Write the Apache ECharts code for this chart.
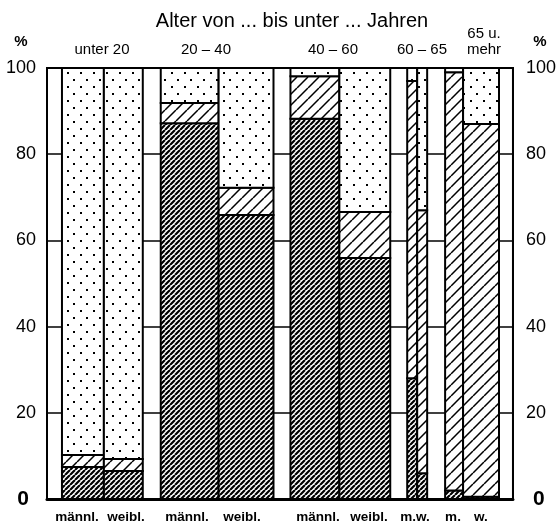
<!DOCTYPE html>
<html><head><meta charset="utf-8">
<script src="https://cdn.jsdelivr.net/npm/echarts@6/dist/echarts.min.js"></script>
<style>html,body{margin:0;padding:0;background:#fff}#c{width:559px;height:524px}</style>
</head><body><div id="c"></div>
<script>
// ---------- data ----------
const title = 'Alter von ... bis unter ... Jahren';
const groups = ['unter 20', '20 – 40', '40 – 60', '60 – 65', '65 u.\nmehr'];
const barLabels = ['männl.', 'weibl.', 'männl.', 'weibl.', 'männl.', 'weibl.', 'm.w.', 'm.', 'w.'];
const yTicks = [0, 20, 40, 60, 80, 100];
// shares in % per bar (männl./weibl. per age group): dark hatched, light hatched, dotted
const darkShare  = [7.4, 6.5, 87.2, 65.9, 88.2, 55.9, 28.0, 6.0, 2.0, 0.5];
const lightShare = [2.8, 2.8, 4.7, 6.3, 9.9, 10.7, 69.0, 61.0, 97.0, 86.5];
const dotShare   = [89.8, 90.7, 8.1, 27.8, 1.9, 33.4, 3.0, 33.0, 1.0, 13.0];

// ---------- layout (not data) ----------
const frameW = 467;
const barSpans = [[15,57],[57,96],[114,172],[172,227],[244,293],[293,344],[361,371],[371,381],[399,417],[417,453]];
const groupLabelX = [102, 206, 333, 422, 484];
const barLabelX = [77, 126, 187, 242, 318, 369, 415, 453, 481];
const FONT = '"Liberation Sans", Arial, Helvetica, sans-serif';

function makeTile(w, h, draw) {
  const c = document.createElement('canvas');
  c.width = w; c.height = h;
  const ctx = c.getContext('2d');
  ctx.fillStyle = '#fff'; ctx.fillRect(0, 0, w, h);
  ctx.strokeStyle = '#000'; ctx.fillStyle = '#000';
  draw(ctx, w, h);
  return c;
}
function hatch(s, lw) {
  return makeTile(s, s, (ctx) => {
    ctx.lineWidth = lw; ctx.beginPath();
    for (let k = -1; k <= 1; k++) { ctx.moveTo(k * s, s); ctx.lineTo(k * s + s, 0); }
    ctx.stroke();
  });
}
const patDark = { image: hatch(5, 2.2), repeat: 'repeat' };
const patLight = { image: hatch(11, 1.5), repeat: 'repeat' };
const patDots = { image: makeTile(13, 14, (ctx) => { ctx.fillRect(2, 2, 2, 2); ctx.fillRect(8, 9, 2, 2); }), repeat: 'repeat' };

const base1 = darkShare.map(() => 0);
const base2 = darkShare.slice();
const base3 = darkShare.map((d, i) => d + lightShare[i]);

function segSeries(name, baseArr, valArr, pattern) {
  const data = valArr.map((v, i) => [barSpans[i][0], barSpans[i][1], baseArr[i], baseArr[i] + v]);
  return {
    type: 'custom', name, data, z: 3,
    encode: { x: [0, 1], y: [2, 3] },
    renderItem(params, api) {
      const p0 = api.coord([api.value(0), api.value(2)]);
      const p1 = api.coord([api.value(1), api.value(3)]);
      return {
        type: 'rect',
        shape: { x: p0[0], y: p1[1], width: p1[0] - p0[0], height: p0[1] - p1[1] },
        style: { fill: pattern, stroke: '#000', lineWidth: 2 }
      };
    }
  };
}

const chart = echarts.init(document.getElementById('c'), null, { renderer: 'canvas' });

const labelCommon = {
  color: '#000', fontFamily: FONT, fontSize: 18,
  formatter: (v) => v === 0 ? '{z|0}' : String(v),
  rich: { z: { fontSize: 21, fontWeight: 'bold', fontFamily: FONT, color: '#000' } }
};

const graphics = [
  { type: 'text', x: 292, y: 21, style: { text: title, font: '20px ' + FONT, fill: '#000', align: 'center', verticalAlign: 'middle' } },
  { type: 'text', x: 21, y: 42, style: { text: '%', font: 'bold 15px ' + FONT, fill: '#000', align: 'center', verticalAlign: 'middle' } },
  { type: 'text', x: 540, y: 42, style: { text: '%', font: 'bold 15px ' + FONT, fill: '#000', align: 'center', verticalAlign: 'middle' } }
];
groups.forEach((g, i) => {
  graphics.push({ type: 'text', x: groupLabelX[i], y: 58, style: { text: g, font: '15px ' + FONT, fill: '#000', align: 'center', verticalAlign: 'bottom', lineHeight: 16 } });
});
barLabels.forEach((t, i) => {
  graphics.push({ type: 'text', x: barLabelX[i], y: 517, style: { text: t, font: 'bold 13.5px ' + FONT, fill: '#000', align: 'center', verticalAlign: 'middle' } });
});

chart.setOption({
  animation: false,
  backgroundColor: '#fff',
  grid: { left: 47, right: 45, top: 68, bottom: 25, show: true, borderColor: '#000', borderWidth: 2, backgroundColor: 'transparent' },
  xAxis: {
    type: 'value', min: 0, max: frameW,
    axisLine: { show: true, onZero: false, lineStyle: { color: '#000', width: 3 } },
    axisTick: { show: false }, axisLabel: { show: false }, splitLine: { show: false }
  },
  yAxis: [
    {
      type: 'value', min: yTicks[0], max: yTicks[yTicks.length - 1], interval: 20, position: 'left',
      axisLine: { show: true, lineStyle: { color: '#000', width: 2 } },
      axisTick: { show: false },
      splitLine: { show: true, lineStyle: { color: '#000', width: 1.6 } },
      axisLabel: Object.assign({ margin: 11, align: 'right' }, labelCommon, { rich: { z: Object.assign({}, labelCommon.rich.z, { padding: [0, 7, 0, 0] }) } })
    },
    {
      type: 'value', min: yTicks[0], max: yTicks[yTicks.length - 1], interval: 20, position: 'right',
      axisLine: { show: true, lineStyle: { color: '#000', width: 2 } },
      axisTick: { show: false }, splitLine: { show: false },
      axisLabel: Object.assign({ margin: 13, align: 'left' }, labelCommon, { rich: { z: Object.assign({}, labelCommon.rich.z, { padding: [0, 0, 0, 7] }) } })
    }
  ],
  series: [
    segSeries('dark', base1, darkShare, patDark),
    segSeries('light', base2, lightShare, patLight),
    segSeries('dots', base3, dotShare, patDots)
  ],
  graphic: graphics
});
</script></body></html>
